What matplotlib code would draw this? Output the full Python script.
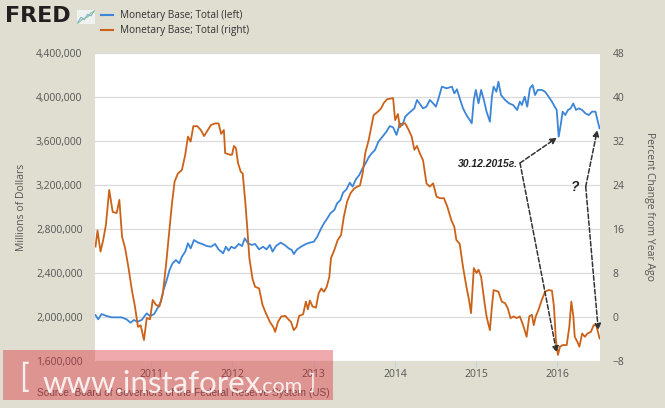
import matplotlib
matplotlib.use('Agg')
import matplotlib.pyplot as plt
from matplotlib.patches import Rectangle
from matplotlib.lines import Line2D
from matplotlib.ticker import FuncFormatter

plt.rcParams['font.family'] = ['Open Sans', 'DejaVu Sans']

# Monetary Base; Total (left axis, millions of dollars), weekly
blue_year = [2010.313, 2010.346, 2010.388, 2010.450, 2010.512, 2010.574, 2010.633, 2010.695,
             2010.745, 2010.786, 2010.827, 2010.882, 2010.944, 2010.985, 2011.035, 2011.076,
             2011.118, 2011.150, 2011.184, 2011.225, 2011.262, 2011.303, 2011.344, 2011.377,
             2011.418, 2011.452, 2011.485, 2011.526, 2011.576, 2011.626, 2011.684, 2011.736,
             2011.786, 2011.828, 2011.885, 2011.919, 2011.953, 2011.985, 2012.027, 2012.077,
             2012.118, 2012.151, 2012.192, 2012.237, 2012.278, 2012.328, 2012.377, 2012.420,
             2012.461, 2012.494, 2012.535, 2012.593, 2012.643, 2012.693, 2012.730, 2012.755,
             2012.796, 2012.845, 2012.904, 2012.953, 2013.003, 2013.044, 2013.086, 2013.127,
             2013.168, 2013.206, 2013.255, 2013.288, 2013.330, 2013.362, 2013.404, 2013.445,
             2013.479, 2013.520, 2013.561, 2013.603, 2013.644, 2013.678, 2013.714, 2013.755,
             2013.797, 2013.847, 2013.896, 2013.937, 2013.978, 2014.020, 2014.061, 2014.095,
             2014.127, 2014.170, 2014.207, 2014.240, 2014.272, 2014.347, 2014.389, 2014.430,
             2014.471, 2014.505, 2014.538, 2014.579, 2014.637, 2014.703, 2014.732, 2014.764,
             2014.798, 2014.839, 2014.881, 2014.922, 2014.947, 2014.972, 2014.997, 2015.030,
             2015.062, 2015.096, 2015.129, 2015.170, 2015.195, 2015.216, 2015.250, 2015.275,
             2015.307, 2015.357, 2015.406, 2015.456, 2015.506, 2015.539, 2015.564, 2015.598,
             2015.630, 2015.663, 2015.696, 2015.726, 2015.760, 2015.809, 2015.850, 2015.893,
             2015.934, 2015.968, 2015.993, 2016.017, 2016.042, 2016.066, 2016.098, 2016.132,
             2016.165, 2016.197, 2016.230, 2016.264, 2016.306, 2016.345, 2016.387, 2016.429,
             2016.470, 2016.495, 2016.520]
blue_level = [2018000, 1979000, 2027000, 2009000, 1997000, 1997000, 1997000, 1979000,
              1948000, 1973000, 1957000, 1973000, 2033000, 2009000, 2027000, 2079000,
              2139000, 2245000, 2321000, 2427000, 2488000, 2518000, 2488000, 2548000,
              2594000, 2670000, 2624000, 2700000, 2676000, 2664000, 2645000, 2639000,
              2664000, 2615000, 2579000, 2639000, 2603000, 2639000, 2624000, 2664000,
              2645000, 2715000, 2670000, 2655000, 2664000, 2615000, 2639000, 2615000,
              2655000, 2594000, 2645000, 2676000, 2655000, 2624000, 2609000, 2573000,
              2615000, 2639000, 2664000, 2676000, 2685000, 2730000, 2797000, 2852000,
              2897000, 2943000, 2973000, 3033000, 3064000, 3130000, 3161000, 3221000,
              3185000, 3252000, 3291000, 3352000, 3403000, 3452000, 3488000, 3518000,
              3594000, 3639000, 3685000, 3736000, 3724000, 3655000, 3761000, 3745000,
              3821000, 3852000, 3876000, 3897000, 3973000, 3897000, 3912000, 3973000,
              3942000, 3912000, 3988000, 4094000, 4079000, 4094000, 4033000, 4070000,
              3988000, 3897000, 3836000, 3791000, 3761000, 3973000, 4064000, 3942000,
              4064000, 3973000, 3867000, 3776000, 4003000, 4094000, 4048000, 4139000,
              4018000, 3973000, 3942000, 3927000, 3882000, 3958000, 3927000, 4003000,
              3912000, 4079000, 4109000, 4018000, 4064000, 4064000, 4048000, 4003000,
              3958000, 3912000, 3882000, 3639000, 3745000, 3867000, 3836000, 3882000,
              3897000, 3942000, 3882000, 3897000, 3882000, 3852000, 3836000, 3867000,
              3867000, 3791000, 3715000]

# Monetary Base; Total, percent change from year ago (right axis)
orange_year = [2010.313, 2010.338, 2010.375, 2010.408, 2010.441, 2010.482, 2010.525, 2010.574,
               2010.607, 2010.640, 2010.678, 2010.720, 2010.761, 2010.799, 2010.836, 2010.869,
               2010.910, 2010.944, 2010.985, 2011.018, 2011.059, 2011.100, 2011.143, 2011.184,
               2011.225, 2011.253, 2011.287, 2011.328, 2011.377, 2011.418, 2011.452, 2011.485,
               2011.518, 2011.567, 2011.610, 2011.651, 2011.692, 2011.734, 2011.786, 2011.828,
               2011.861, 2011.894, 2011.910, 2011.969, 2011.994, 2012.018, 2012.043, 2012.068,
               2012.102, 2012.126, 2012.159, 2012.184, 2012.208, 2012.246, 2012.278, 2012.328,
               2012.370, 2012.411, 2012.461, 2012.502, 2012.526, 2012.560, 2012.601, 2012.651,
               2012.693, 2012.721, 2012.755, 2012.788, 2012.821, 2012.870, 2012.904, 2012.929,
               2012.953, 2012.987, 2013.028, 2013.061, 2013.094, 2013.127, 2013.161, 2013.193,
               2013.213, 2013.255, 2013.296, 2013.337, 2013.371, 2013.412, 2013.454, 2013.495,
               2013.536, 2013.570, 2013.603, 2013.635, 2013.678, 2013.714, 2013.738, 2013.788,
               2013.829, 2013.863, 2013.904, 2013.978, 2014.003, 2014.037, 2014.061, 2014.095,
               2014.127, 2014.170, 2014.207, 2014.240, 2014.272, 2014.306, 2014.347, 2014.389,
               2014.430, 2014.471, 2014.513, 2014.554, 2014.604, 2014.645, 2014.695, 2014.732,
               2014.757, 2014.798, 2014.839, 2014.881, 2014.913, 2014.938, 2014.972, 2015.005,
               2015.030, 2015.062, 2015.105, 2015.129, 2015.170, 2015.195, 2015.216, 2015.275,
               2015.316, 2015.357, 2015.390, 2015.424, 2015.465, 2015.498, 2015.539, 2015.580,
               2015.622, 2015.655, 2015.688, 2015.710, 2015.735, 2015.768, 2015.809, 2015.850,
               2015.893, 2015.934, 2015.959, 2015.983, 2016.008, 2016.033, 2016.066, 2016.116,
               2016.148, 2016.173, 2016.198, 2016.215, 2016.247, 2016.272, 2016.306, 2016.340,
               2016.372, 2016.414, 2016.447, 2016.480, 2016.505, 2016.521]
orange_pct = [12.8, 15.7, 11.9, 14.0, 16.7, 23.1, 19.1, 18.9,
              21.3, 14.6, 12.5, 8.9, 4.9, 1.9, -1.8, -1.5,
              -4.2, -0.2, -0.4, 3.1, 2.2, 1.9, 4.3, 9.8,
              16.1, 20.4, 24.6, 26.1, 26.7, 29.5, 32.8, 31.9,
              34.7, 34.7, 34.0, 32.9, 33.9, 34.9, 35.2, 35.2,
              33.3, 34.0, 29.8, 29.5, 29.5, 31.1, 30.7, 28.0,
              26.4, 26.1, 20.7, 15.8, 10.7, 7.0, 5.5, 5.2,
              2.2, 0.7, -0.9, -1.8, -2.7, -0.9, 0.1, 0.2,
              -0.5, -0.9, -2.4, -1.8, 0.2, 0.5, 2.8, 1.4,
              3.0, 1.9, 1.7, 4.3, 5.2, 4.6, 5.5, 7.3,
              10.7, 12.2, 14.0, 14.9, 18.2, 21.0, 22.5, 23.3,
              23.7, 23.9, 26.1, 29.8, 32.2, 34.9, 36.7, 37.3,
              37.9, 38.9, 39.6, 39.8, 35.8, 36.9, 34.5, 35.2,
              35.2, 34.0, 32.8, 30.4, 31.1, 29.8, 28.5, 24.3,
              23.7, 24.3, 21.9, 21.6, 21.6, 20.1, 17.6, 16.4,
              14.0, 13.3, 9.1, 5.5, 3.1, 0.7, 8.9, 8.0,
              8.6, 7.3, 2.5, 0.1, -2.4, 1.9, 4.9, 4.6,
              2.8, 2.5, 1.6, -0.2, 0.1, -0.2, 0.1, -1.5,
              -3.6, 0.1, 0.4, -1.5, 0.1, 1.3, 3.1, 4.6,
              4.9, 4.8, 1.9, -4.2, -6.9, -5.4, -5.1, -5.1,
              -1.8, 2.8, 0.1, -3.6, -4.5, -5.4, -3.0, -3.6,
              -3.0, -2.7, -1.5, -1.5, -3.0, -3.9]

years = [2011, 2012, 2013, 2014, 2015, 2016]
left_ticks = [1600000, 2000000, 2400000, 2800000, 3200000, 3600000, 4000000, 4400000]
right_ticks = [-8, 0, 8, 16, 24, 32, 40, 48]

# little chart icon next to the logo
icon_x = [0, 1, 2, 3, 4, 5]
icon_y1 = [0.5, 1.8, 1.2, 2.6, 2.2, 3.6]
icon_y2 = [0.2, 1.0, 1.6, 1.9, 3.0, 3.3]

bg = '#E0DED0'
blue = '#3D85D8'
orange = '#CC6218'
txt = '#555555'

fig = plt.figure(figsize=(6.65, 4.08), dpi=100, facecolor=bg)
ax1 = fig.add_axes([95/665, 1-361/408, 505/665, 308/408])
ax1.set_facecolor('white')
ax2 = ax1.twinx()

ax1.plot(blue_year, blue_level, color=blue, lw=1.3)
ax2.plot(orange_year, orange_pct, color=orange, lw=1.3)

ax1.set_xlim(2010.307, 2016.526)
ax1.set_ylim(1600000, 4400000)
ax2.set_ylim(-8, 48)
ax1.set_xticks(years)
ax1.set_xticklabels([str(y) for y in years])
ax1.set_yticks(left_ticks)
ax2.set_yticks(right_ticks)
ax1.yaxis.set_major_formatter(FuncFormatter(lambda v, p: f'{v:,.0f}'))
ax1.yaxis.grid(True, color='#DADADA', lw=0.9)
ax1.set_axisbelow(True)

for a in (ax1, ax2):
    for s in a.spines.values():
        s.set_visible(False)
ax1.tick_params(axis='y', length=0, pad=9, labelsize=7.5, labelcolor=txt)
ax2.tick_params(axis='y', length=0, pad=9, labelsize=7.5, labelcolor=txt)
ax1.tick_params(axis='x', length=4, width=0.8, color='#C5D3E0', pad=2,
                labelsize=7.5, labelcolor=txt)

fig.text(22/665, 1-207/408, 'Millions of Dollars', rotation=90, ha='center',
         va='center', fontsize=7.5, color=txt)
fig.text(650/665, 1-207/408, 'Percent Change from Year Ago', rotation=270,
         ha='center', va='center', fontsize=7.5, color=txt)

# logo and legend
fig.text(5/665, 1-16/408, 'FRED', fontsize=16, fontweight='bold', color='#231F20',
         va='center', ha='left', family='DejaVu Sans')
icon = fig.add_axes([77/665, 1-24/408, 18/665, 14/408])
icon.set_facecolor('#EEF2F0')
icon.plot(icon_x, icon_y1, color='#7FB0DA', lw=0.8)
icon.plot(icon_x, icon_y2, color='#8CC28A', lw=0.8)
icon.set_xticks([])
icon.set_yticks([])
for s in icon.spines.values():
    s.set_visible(False)

handles = [Line2D([], [], color=blue, lw=1.5), Line2D([], [], color=orange, lw=1.5)]
fig.legend(handles, ['Monetary Base; Total (left)', 'Monetary Base; Total (right)'],
           loc='upper left', bbox_to_anchor=(101/665, 1-10/408), frameon=False,
           fontsize=7.2, handlelength=1.2, handletextpad=0.75, labelspacing=0.45,
           borderaxespad=0, borderpad=0, labelcolor='#333333')

# annotations
date_pt = (2015.541, 3400000)
ax2.text(2015.52, 3390000, '30.12.2015г.', transform=ax1.transData, ha='right',
         va='center', fontsize=7.5, fontstyle='italic', fontweight='bold',
         family='Liberation Sans', color='#222222')
arrow = dict(arrowstyle='-|>', ls=(0, (3, 1.5)), color='#333333', lw=1.1,
             mutation_scale=9, shrinkA=0, shrinkB=0)
ax2.annotate('', xy=(2015.995, 3630000), xycoords=ax1.transData,
             xytext=date_pt, textcoords=ax1.transData, arrowprops=arrow)
ax2.annotate('', xy=(2015.993, -6.5), xycoords=ax2.transData,
             xytext=date_pt, textcoords=ax1.transData, arrowprops=arrow)
q_pt = (2016.35, 3185000)
ax2.text(2016.218, 3182000, '?', transform=ax1.transData, ha='center', va='center',
         fontsize=10, fontstyle='italic', fontweight='bold', family='Liberation Sans',
         color='#222222')
ax2.annotate('', xy=(2016.493, 3700000), xycoords=ax1.transData,
             xytext=q_pt, textcoords=ax1.transData, arrowprops=arrow)
ax2.annotate('', xy=(2016.505, -2.4), xycoords=ax2.transData,
             xytext=q_pt, textcoords=ax1.transData, arrowprops=arrow)

fig.text(37/665, 1-393/408, 'Source: Board of Governors of the Federal Reserve System (US)',
         fontsize=7.3, color='#555555', family='Liberation Sans', va='center', ha='left')

# watermark
fig.add_artist(Rectangle((3/665, 1-400/408), 330/665, 50/408, transform=fig.transFigure,
                         facecolor=(0.86, 0.16, 0.2), alpha=0.4, edgecolor='none', zorder=10))
wm = dict(color='white', alpha=0.85, zorder=11, family='Lato', fontweight='normal')
fig.text(19/665, 1-378/408, '[', fontsize=23, va='center', ha='left', **wm)
fig.text(42/665, 1-393/408, 'www.instaforex', fontsize=22.5, va='baseline', ha='left', **wm)
fig.text(258/665, 1-393/408, '.com', fontsize=15.5, va='baseline', ha='left', **wm)
fig.text(308/665, 1-383/408, ']', fontsize=16, va='center', ha='left', **wm)

fig.savefig('out.png', dpi=100, facecolor=bg)
